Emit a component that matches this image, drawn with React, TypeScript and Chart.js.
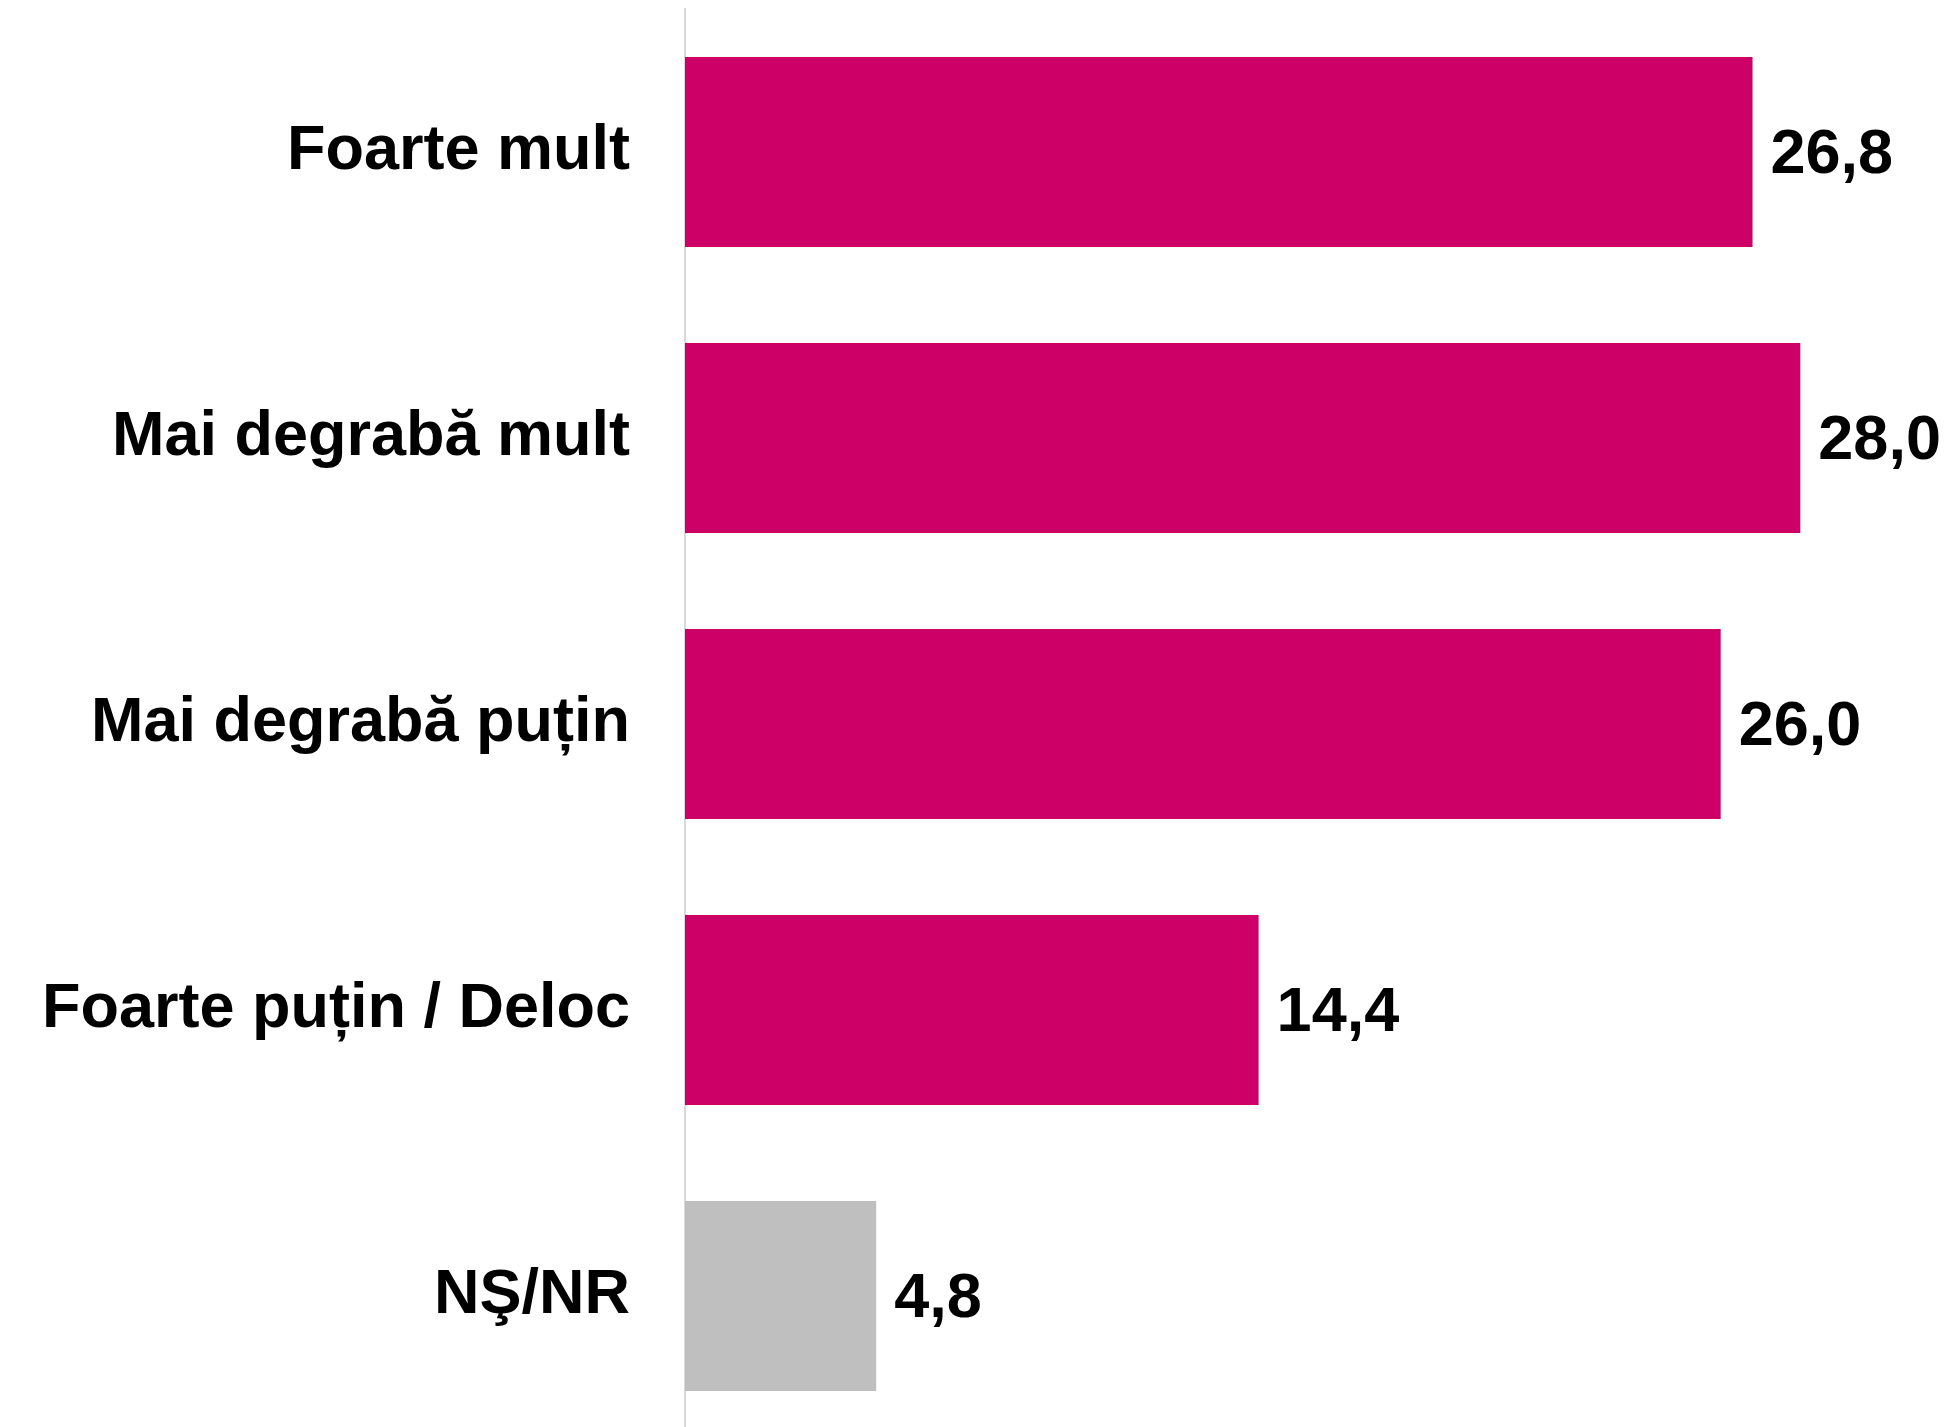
import React, { useEffect, useRef } from "react";
import { Chart, registerables } from "chart.js";

Chart.register(...registerables);

const categories = [
  "Foarte mult",
  "Mai degrabă mult",
  "Mai degrabă puțin",
  "Foarte puțin / Deloc",
  "NŞ/NR",
];
const values = [26.8, 28.0, 26.0, 14.4, 4.8];
const barColors = ["#CC0066", "#CC0066", "#CC0066", "#CC0066", "#BFBFBF"];

const FONT = "'Liberation Sans', Arial, sans-serif";

const valueLabels = {
  id: "valueLabels",
  afterDatasetsDraw(chart: any) {
    const ctx = chart.ctx;
    const meta = chart.getDatasetMeta(0);
    ctx.save();
    ctx.font = `bold 63px ${FONT}`;
    ctx.fillStyle = "#000000";
    ctx.textAlign = "left";
    ctx.textBaseline = "middle";
    meta.data.forEach((bar: any, i: number) => {
      const v = chart.data.datasets[0].data[i] as number;
      ctx.fillText(v.toFixed(1).replace(".", ","), bar.x + 18, bar.y + 4);
    });
    ctx.restore();
  },
};

export default function App() {
  const ref = useRef<HTMLCanvasElement | null>(null);
  useEffect(() => {
    if (!ref.current) return;
    const chart = new Chart(ref.current, {
      type: "bar",
      data: {
        labels: categories,
        datasets: [
          {
            data: values,
            backgroundColor: barColors,
            borderWidth: 0,
            barPercentage: 0.665,
            categoryPercentage: 1,
          },
        ],
      },
      options: {
        indexAxis: "y",
        animation: false,
        responsive: false,
        maintainAspectRatio: false,
        layout: { padding: { top: 9, bottom: 1, left: 0, right: 76 } },
        plugins: {
          legend: { display: false },
          tooltip: { enabled: false },
        },
        scales: {
          x: {
            display: false,
            min: 0,
            max: 30,
          },
          y: {
            grid: { display: false },
            border: { display: true, color: "#D9D9D9", width: 2 },
            ticks: {
              color: "#000000",
              padding: 47,
              font: { family: FONT, size: 63, weight: "bold" },
            },
            afterFit(scale: any) {
              scale.width = 685;
              scale.paddingTop = 0;
              scale.paddingBottom = 0;
            },
          },
        },
      },
      plugins: [valueLabels],
    });
    return () => chart.destroy();
  }, []);
  return (
    <div style={{ position: "fixed", top: 0, left: 0, width: 1956, height: 1440, background: "#fff" }}>
      <canvas ref={ref} width={1956} height={1440} style={{ display: "block" }} />
    </div>
  );
}
